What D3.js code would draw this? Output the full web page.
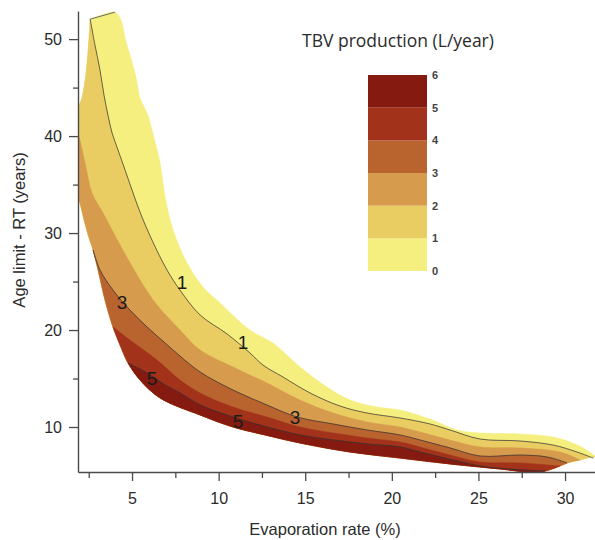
<!DOCTYPE html>
<html>
<head>
<meta charset="utf-8">
<script src="https://cdn.jsdelivr.net/npm/d3@7"></script>
<style>
  html, body { margin: 0; padding: 0; background: #fff; }
  svg { display: block; }
</style>
</head>
<body>
<svg id="chart" width="595" height="540"></svg>
<script>
// TBV production (L/year) as filled contour bands over evaporation rate and age limit

const bandLevels = [0, 1, 2, 3, 4, 5, 6];
const bandColors = ["#f4ef7e", "#e9cc62", "#d69b4c", "#b9632f", "#a3321b", "#851a10"];

const evapTicks = [5, 10, 15, 20, 25, 30];
const evapMinor = [2.5, 7.5, 12.5, 17.5, 22.5, 27.5];
const ageTicks = [10, 20, 30, 40, 50];
const ageMinor = [15, 25, 35, 45];

// Boundary of the computed domain: from the top corner, down the lower-left side, round to the right tip
const domainEdge = [
  [2.58, 52.06], [2.00, 43.40], [1.42, 42.47], [1.19, 37.53], [1.54, 34.95], [1.94, 33.40],
  [2.23, 31.34], [2.52, 29.48], [2.75, 28.25], [3.04, 26.19], [3.44, 23.09], [3.90, 20.31],
  [4.31, 18.45], [4.77, 16.60], [5.46, 14.85], [6.62, 12.99], [8.93, 11.24], [10.83, 10.00],
  [12.68, 9.18], [14.70, 8.35], [17.59, 7.42], [20.47, 6.80], [23.36, 6.19], [26.25, 5.67],
  [27.98, 5.36], [28.85, 5.46], [29.71, 5.98], [30.12, 6.29], [30.87, 6.60], [31.73, 7.01]
];

// Iso-lines of TBV production, each running from one side of the domain edge to the other
const contour0 = [
  [2.58, 52.06], [4.02, 52.78], [4.36, 51.96], [4.60, 50.10], [5.00, 47.63], [5.29, 45.57],
  [5.46, 43.92], [5.92, 42.16], [6.15, 40.62], [6.62, 37.22], [6.91, 33.71], [7.37, 30.31],
  [8.18, 26.91], [9.10, 24.43], [10.08, 22.78], [11.81, 20.00], [13.14, 18.66], [14.70, 16.19],
  [16.26, 14.12], [17.59, 12.78], [19.15, 12.06], [20.47, 11.75], [22.21, 10.82], [23.76, 9.69],
  [25.09, 9.38], [27.40, 9.28], [29.31, 8.97], [30.29, 8.45], [31.15, 7.73], [31.73, 7.01]
];
const contour1 = [
  [2.58, 52.06], [2.86, 49.38], [3.15, 46.80], [3.38, 44.23], [3.61, 42.16], [3.85, 40.31],
  [4.19, 38.56], [4.60, 36.49], [5.00, 34.43], [5.46, 32.16], [6.15, 29.28], [7.02, 26.19],
  [7.77, 24.12], [8.93, 21.55], [10.49, 19.59], [11.81, 17.63], [12.56, 16.39], [13.72, 15.15],
  [15.28, 13.51], [17.01, 12.16], [18.57, 11.44], [20.47, 10.93], [22.21, 10.31], [23.36, 9.69],
  [25.09, 8.76], [27.40, 8.56], [29.31, 8.14], [30.69, 7.42], [31.62, 6.80]
];
const contour2 = [
  [1.42, 42.47], [1.88, 40.31], [2.29, 37.22], [2.69, 34.12], [3.33, 32.06], [4.31, 28.76],
  [5.06, 26.39], [5.64, 24.64], [6.44, 22.58], [7.77, 20.00], [8.93, 17.94], [10.83, 16.19],
  [12.79, 14.54], [14.70, 12.78], [16.61, 11.44], [18.57, 10.52], [20.47, 10.00], [21.63, 9.48],
  [23.36, 8.66], [25.09, 7.94], [27.40, 7.84], [29.71, 7.42], [30.87, 6.60]
];
const contour3 = [
  [2.75, 28.25], [3.15, 26.19], [3.90, 24.12], [4.88, 22.06], [5.87, 20.31], [6.91, 18.66],
  [7.77, 17.32], [8.93, 15.67], [10.83, 13.81], [12.79, 12.27], [14.53, 11.03], [16.61, 10.31],
  [18.57, 9.69], [20.47, 9.18], [21.63, 8.66], [23.36, 7.84], [25.09, 7.01], [27.40, 7.11],
  [28.96, 6.91], [30.12, 6.29]
];
const contour4 = [
  [3.90, 20.31], [4.88, 18.97], [6.44, 16.91], [7.77, 14.85], [8.93, 13.51], [10.83, 12.06],
  [12.79, 11.03], [14.70, 10.00], [16.61, 9.38], [18.57, 8.87], [20.47, 8.45], [21.63, 7.94],
  [23.36, 7.11], [25.09, 6.39], [27.40, 6.29], [29.71, 5.98]
];
const contour5 = [
  [4.77, 16.60], [5.87, 15.57], [6.91, 14.33], [7.77, 13.51], [8.93, 12.27], [10.83, 11.03],
  [12.79, 10.00], [14.70, 9.18], [16.61, 8.66], [18.57, 8.25], [20.47, 7.94], [21.63, 7.42],
  [23.53, 6.60], [25.50, 5.88], [28.85, 5.46]
];

const contours = [contour0, contour1, contour2, contour3, contour4, contour5];
const labelledLevels = [1, 3, 5];

// In-line level labels: [level, evaporation rate, age limit]
const contourLabels = [
  [1, 7.89, 24.95], [1, 11.41, 18.76],
  [3, 4.42, 22.89], [3, 14.41, 11.03],
  [5, 6.15, 15.05], [5, 11.12, 10.52]
];

const legendTitle = "TBV production (L/year)";
const xTitle = "Evaporation rate (%)";
const yTitle = "Age limit - RT (years)";

// ---- layout ----
const svg = d3.select("#chart");
const W = 595, H = 540;
const x = d3.scaleLinear().domain([1.88, 31.73]).range([78, 595]);
const y = d3.scaleLinear().domain([5.36, 52.9]).range([472, 11]);

const axisColor = "#4a4a4a";
const textColor = "#2b2b2b";
const font = "'Liberation Sans', Arial, Helvetica, sans-serif";

svg.append("defs").append("clipPath").attr("id", "plot-clip")
  .append("rect")
  .attr("x", x.range()[0]).attr("y", 0)
  .attr("width", W - x.range()[0]).attr("height", y.range()[0]);

const line = d3.line()
  .x(d => x(d[0]))
  .y(d => y(d[1]))
  .curve(d3.curveCatmullRom.alpha(0.5));

function edgeIndex(p) {
  let best = 0, bestD = Infinity;
  domainEdge.forEach((q, i) => {
    const dx = x(q[0]) - x(p[0]), dy = y(q[1]) - y(p[1]);
    const d = dx * dx + dy * dy;
    if (d < bestD) { bestD = d; best = i; }
  });
  return best;
}

// Region where production >= level k: iso-line k closed along the domain edge
function regionPath(k) {
  const c = contours[k];
  const i0 = edgeIndex(c[0]);
  const i1 = edgeIndex(c[c.length - 1]);
  const back = domainEdge.slice(Math.min(i0, i1), Math.max(i0, i1) + 1).reverse();
  return line(c) + line(back).replace(/^M/, "L") + "Z";
}

const plot = svg.append("g").attr("clip-path", "url(#plot-clip)");

plot.selectAll("path.band")
  .data(d3.range(bandColors.length))
  .join("path")
  .attr("class", "band")
  .attr("d", k => regionPath(k))
  .attr("fill", k => bandColors[k])
  .attr("stroke", k => bandColors[k])
  .attr("stroke-width", 0.5);

// top edge of the domain
plot.append("path")
  .attr("d", line(contour0.slice(0, 2)))
  .attr("fill", "none")
  .attr("stroke", "#6b6b6b")
  .attr("stroke-width", 1);

plot.selectAll("path.iso")
  .data(labelledLevels)
  .join("path")
  .attr("class", "iso")
  .attr("d", k => line(contours[k]))
  .attr("fill", "none")
  .attr("stroke", "#333")
  .attr("stroke-opacity", 0.85)
  .attr("stroke-width", 0.85);

svg.append("g").selectAll("text")
  .data(contourLabels)
  .join("text")
  .attr("x", d => x(d[1]))
  .attr("y", d => y(d[2]))
  .attr("text-anchor", "middle")
  .attr("dominant-baseline", "central")
  .attr("font-family", font)
  .attr("font-size", 19)
  .attr("fill", "#1a1a1a")
  .text(d => d[0]);

// ---- axes ----
function styleAxis(g) {
  g.select(".domain").attr("stroke", axisColor).attr("stroke-width", 1.4);
  g.selectAll(".tick line").attr("stroke", axisColor).attr("stroke-width", 1.3);
  g.selectAll(".tick text")
    .attr("font-family", font)
    .attr("font-size", 16)
    .attr("fill", textColor);
}

svg.append("g")
  .attr("transform", `translate(0,${y.range()[0]})`)
  .call(d3.axisBottom(x).tickValues(evapMinor).tickSize(6).tickSizeOuter(0).tickFormat(""))
  .call(g => g.select(".domain").remove())
  .call(styleAxis);

svg.append("g")
  .attr("transform", `translate(0,${y.range()[0]})`)
  .call(d3.axisBottom(x).tickValues(evapTicks).tickSize(9).tickPadding(12).tickSizeOuter(0))
  .call(styleAxis);

svg.append("g")
  .attr("transform", `translate(${x.range()[0]},0)`)
  .call(d3.axisLeft(y).tickValues(ageMinor).tickSize(5).tickSizeOuter(0).tickFormat(""))
  .call(g => g.select(".domain").remove())
  .call(styleAxis);

svg.append("g")
  .attr("transform", `translate(${x.range()[0]},0)`)
  .call(d3.axisLeft(y).tickValues(ageTicks).tickSize(9).tickPadding(7).tickSizeOuter(0))
  .call(styleAxis);

svg.append("text")
  .attr("x", 325).attr("y", 529)
  .attr("text-anchor", "middle")
  .attr("dominant-baseline", "central")
  .attr("font-family", font)
  .attr("font-size", 16.5)
  .attr("fill", textColor)
  .text(xTitle);

svg.append("text")
  .attr("transform", "translate(19,230) rotate(-90)")
  .attr("text-anchor", "middle")
  .attr("dominant-baseline", "central")
  .attr("font-family", font)
  .attr("font-size", 16.5)
  .attr("fill", textColor)
  .text(yTitle);

// ---- legend ----
const ly = d3.scaleLinear().domain([0, 6]).range([271, 75]);
const legend = svg.append("g");
const lx0 = 368, lw = 59;

legend.selectAll("rect")
  .data(d3.range(bandColors.length))
  .join("rect")
  .attr("x", lx0)
  .attr("y", k => ly(bandLevels[k + 1]))
  .attr("width", lw)
  .attr("height", k => ly(bandLevels[k]) - ly(bandLevels[k + 1]))
  .attr("fill", k => bandColors[k]);

legend.selectAll("text.lv")
  .data(bandLevels)
  .join("text")
  .attr("class", "lv")
  .attr("x", lx0 + lw + 5)
  .attr("y", d => ly(d))
  .attr("dominant-baseline", "central")
  .attr("font-family", font)
  .attr("font-size", 11)
  .attr("font-weight", "bold")
  .attr("fill", "#444")
  .text(d => d);

legend.append("text")
  .attr("x", 302).attr("y", 47)
  .attr("font-family", "'Open Sans', 'Noto Sans', sans-serif")
  .attr("font-size", 17.5)
  .attr("fill", textColor)
  .text(legendTitle);
</script>
</body>
</html>
